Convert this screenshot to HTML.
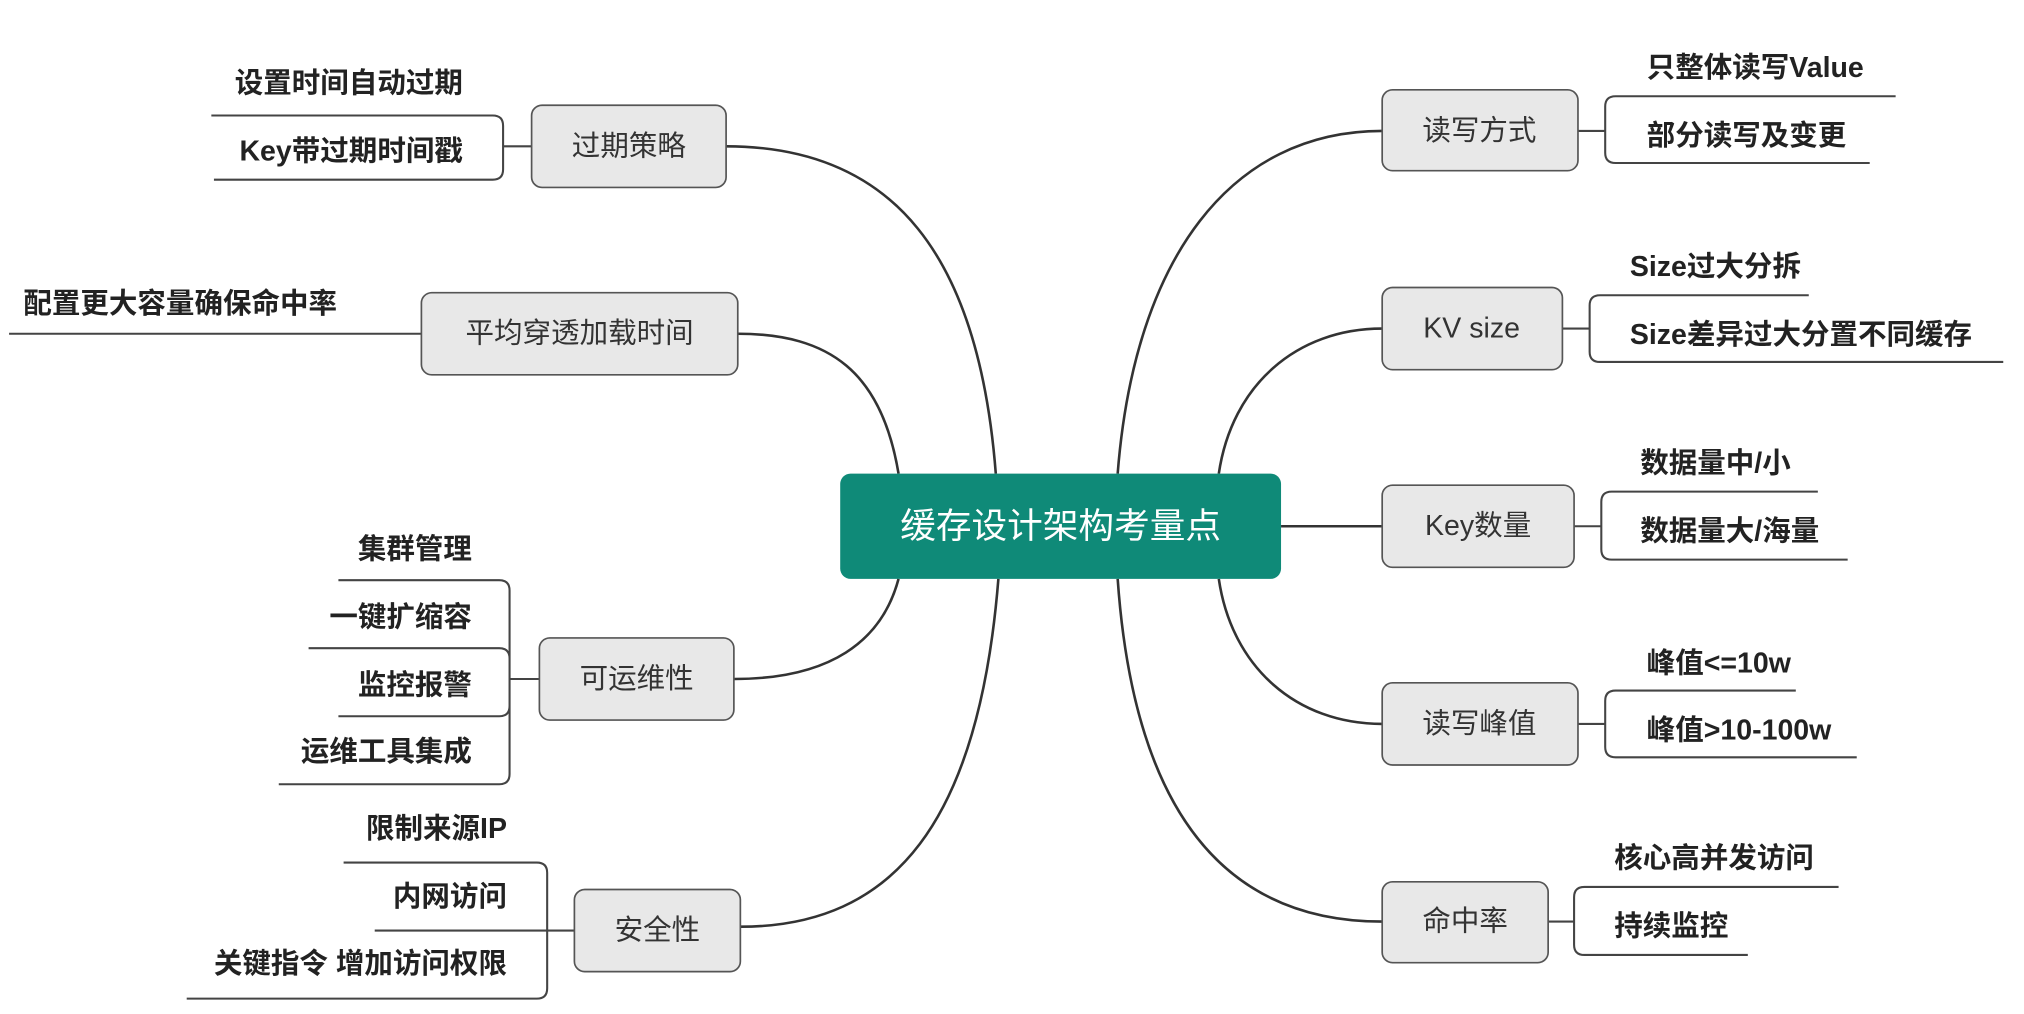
<!DOCTYPE html>
<html><head><meta charset="utf-8"><style>
html,body{margin:0;padding:0;background:#fff;}
svg{display:block;}
text{font-family:"Liberation Sans","Noto Sans CJK SC",sans-serif;}
.b{fill:#e8e8e8;stroke:#555;stroke-width:1.3;}
.bt{font-size:22px;fill:#333;text-anchor:middle;dominant-baseline:central;}
.c{font-size:22px;fill:#222;font-weight:600;}
.l{fill:none;stroke:#333;stroke-width:2;}
.t{fill:none;stroke:#444;stroke-width:1.6;}
</style></head><body>
<svg width="2024" height="1014" viewBox="0 0 1561 790" preserveAspectRatio="none" xmlns="http://www.w3.org/2000/svg">
<path class="l" d="M768,369 C755,200 690,114 560,114"/>
<path class="l" d="M693,369 C680,290 640,260 569,260"/>
<path class="l" d="M693,451 C680,500 640,529 566,529"/>
<path class="l" d="M770,451 C755,640 690,722 571,722"/>
<path class="l" d="M862,369 C875,200 950,102 1066,102"/>
<path class="l" d="M940,369 C950,300 1000,256 1066,256"/>
<path class="l" d="M988,410 L1066,410"/>
<path class="l" d="M940,451 C950,520 1000,564 1066,564"/>
<path class="l" d="M862,451 C875,640 950,718 1066,718"/>
<rect x="648" y="369" width="340" height="82" rx="8" fill="#0f8a78"/>
<text x="818" y="410" font-size="27.5" fill="#fff" text-anchor="middle" dominant-baseline="central">缓存设计架构考量点</text>

<path class="t" d="M1217,102 H1238 M1462,75 H1246 Q1238,75 1238,83 V119 Q1238,127 1246,127 H1442"/>
<rect class="b" x="1066" y="70" width="151" height="63" rx="8"/>
<text class="bt" x="1141" y="102">读写方式</text>
<text class="c" x="1270" y="60">只整体读写Value</text>
<text class="c" x="1270" y="113">部分读写及变更</text>

<path class="t" d="M1205,256 H1226 M1395,230 H1234 Q1226,230 1226,238 V274 Q1226,282 1234,282 H1545"/>
<rect class="b" x="1066" y="224" width="139" height="64" rx="8"/>
<text class="bt" x="1135" y="256">KV size</text>
<text class="c" x="1257" y="215">Size过大分拆</text>
<text class="c" x="1257" y="268">Size差异过大分置不同缓存</text>

<path class="t" d="M1214,410 H1235 M1402,383 H1243 Q1235,383 1235,391 V428 Q1235,436 1243,436 H1425"/>
<rect class="b" x="1066" y="378" width="148" height="64" rx="8"/>
<text class="bt" x="1140" y="410">Key数量</text>
<text class="c" x="1265" y="368">数据量中/小</text>
<text class="c" x="1265" y="421">数据量大/海量</text>

<path class="t" d="M1217,564 H1238 M1385,538 H1246 Q1238,538 1238,546 V582 Q1238,590 1246,590 H1432"/>
<rect class="b" x="1066" y="532" width="151" height="64" rx="8"/>
<text class="bt" x="1141" y="564">读写峰值</text>
<text class="c" x="1270" y="524">峰值&lt;=10w</text>
<text class="c" x="1270" y="576">峰值&gt;10-100w</text>

<path class="t" d="M1194,718 H1214 M1418,691 H1222 Q1214,691 1214,699 V736 Q1214,744 1222,744 H1348"/>
<rect class="b" x="1066" y="687" width="128" height="63" rx="8"/>
<text class="bt" x="1130" y="718">命中率</text>
<text class="c" x="1245" y="676">核心高并发访问</text>
<text class="c" x="1245" y="729">持续监控</text>

<path class="t" d="M410,114 H388 M163,90 H380 Q388,90 388,98 V132 Q388,140 380,140 H165"/>
<rect class="b" x="410" y="82" width="150" height="64" rx="8"/>
<text class="bt" x="485" y="114">过期策略</text>
<text class="c" x="357" y="72" text-anchor="end">设置时间自动过期</text>
<text class="c" x="357" y="125" text-anchor="end">Key带过期时间戳</text>

<path class="t" d="M325,260 H7"/>
<rect class="b" x="325" y="228" width="244" height="64" rx="8"/>
<text class="bt" x="447" y="260">平均穿透加载时间</text>
<text class="c" x="18" y="244">配置更大容量确保命中率</text>

<path class="t" d="M416,529 H393 M261,452 H385 Q393,452 393,460 V603 Q393,611 385,611 H215 M238,505 H385 Q393,505 393,513 V550 Q393,558 385,558 H261"/>
<rect class="b" x="416" y="497" width="150" height="64" rx="8"/>
<text class="bt" x="491" y="529">可运维性</text>
<text class="c" x="364" y="435" text-anchor="end">集群管理</text>
<text class="c" x="364" y="488" text-anchor="end">一键扩缩容</text>
<text class="c" x="364" y="541" text-anchor="end">监控报警</text>
<text class="c" x="364" y="593" text-anchor="end">运维工具集成</text>

<path class="t" d="M265,672 H414 Q422,672 422,680 V770 Q422,778 414,778 H144 M289,725 H443"/>
<rect class="b" x="443" y="693" width="128" height="64" rx="8"/>
<text class="bt" x="507" y="725">安全性</text>
<text class="c" x="391" y="653" text-anchor="end">限制来源IP</text>
<text class="c" x="391" y="706" text-anchor="end">内网访问</text>
<text class="c" x="391" y="758" text-anchor="end">关键指令 增加访问权限</text>
</svg>
</body></html>
